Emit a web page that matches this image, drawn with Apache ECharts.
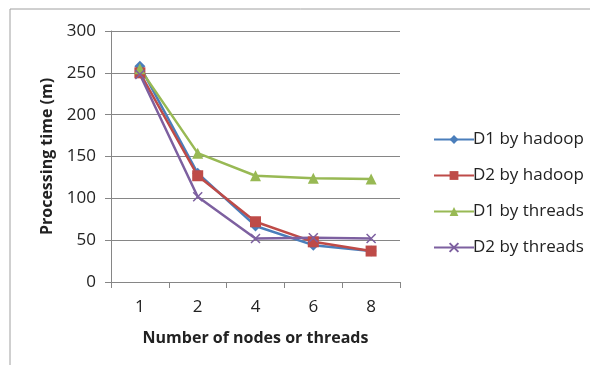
<!DOCTYPE html>
<html><head><meta charset="utf-8">
<script src="https://cdn.jsdelivr.net/npm/echarts@6/dist/echarts.min.js"></script>
<style>html,body{margin:0;padding:0;background:#fff}#c{width:590px;height:365px}</style>
</head><body><div id="c"></div>
<script>
const categories = ['1','2','4','6','8'];
const d1Hadoop = [258, 130, 67, 44, 37];
const d2Hadoop = [250, 127, 72, 48, 37];
const d1Threads = [255, 154, 127, 124, 123];
const d2Threads = [248, 102, 52, 53, 52];
const seriesNames = ['D1 by hadoop','D2 by hadoop','D1 by threads','D2 by threads'];
const colors = ['#4A7EBB','#BE4B48','#98B954','#7D60A0'];
const FONT = '"Open Sans", "Liberation Sans", sans-serif';
const xPath = 'path://M0,0L10,10M10,0L0,10';

const chart = echarts.init(document.getElementById('c'), null, {renderer:'canvas'});
function mk(name, data, color, symbol, size, extra){
  return Object.assign({
    name, type:'line', data, symbol, symbolSize:size,
    showAllSymbol:true,
    lineStyle:{color, width:2.5},
    itemStyle:{color, borderColor:color, borderWidth: symbol===xPath?1.5:0},
    emphasis:{disabled:true}, animation:false, z:3
  }, extra||{});
}
chart.setOption({
  animation:false,
  textStyle:{fontFamily:FONT},
  graphic:[{type:'rect', shape:{x:10,y:9,width:600,height:400}, style:{fill:'none', stroke:'#A0A0A0', lineWidth:1}, silent:true}],
  grid:{left:111, right:190, top:31, bottom:83, containLabel:false},
  legend:{
    orient:'vertical', left:428, top:126, itemGap:19, itemWidth:40, itemHeight:11,
    textStyle:{fontFamily:FONT, fontSize:17, color:'#222', padding:[0,0,0,-6]},
    data:seriesNames
  },
  xAxis:{
    type:'category', data:categories, boundaryGap:true,
    name:'Number of nodes or threads', nameLocation:'middle', nameGap:48,
    nameTextStyle:{fontFamily:FONT, fontSize:16, fontWeight:'bold', color:'#222'},
    axisLine:{lineStyle:{color:'#868686', width:1}},
    axisTick:{show:true, length:6, inside:false, lineStyle:{color:'#868686'}},
    axisLabel:{fontSize:17, color:'#222', margin:17, fontFamily:FONT}
  },
  yAxis:{
    type:'value', min:0, max:300, interval:50,
    name:'Processing time (m)', nameLocation:'middle', nameGap:56, nameRotate:90,
    nameTextStyle:{fontFamily:FONT, fontSize:16, fontWeight:'bold', color:'#222'},
    axisLine:{show:true, lineStyle:{color:'#868686', width:1}},
    axisTick:{show:true, length:6, lineStyle:{color:'#868686'}},
    axisLabel:{fontSize:17, color:'#222', margin:15, fontFamily:FONT},
    splitLine:{lineStyle:{color:'#868686', width:1}}
  },
  series:[
    mk(seriesNames[0], d1Hadoop, colors[0], 'diamond', 11),
    mk(seriesNames[1], d2Hadoop, colors[1], 'rect', 11),
    mk(seriesNames[2], d1Threads, colors[2], 'triangle', 11),
    mk(seriesNames[3], d2Threads, colors[3], xPath, 9)
  ]
});
</script></body></html>
